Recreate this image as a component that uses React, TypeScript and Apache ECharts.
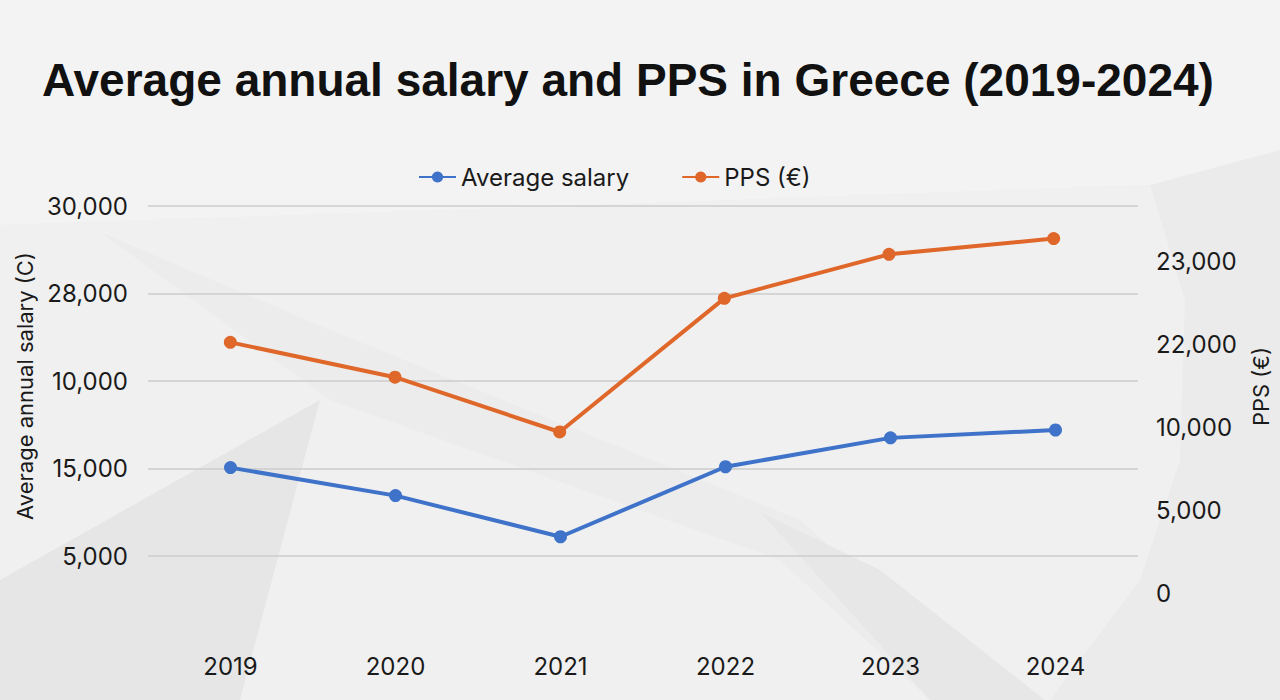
import React, { useEffect, useRef } from "react";
import * as echarts from "echarts";

// Years on the category axis
const years = ["2019", "2020", "2021", "2022", "2023", "2024"];

// Tick labels, bottom to top, as printed on each axis
const salaryTicks = ["5,000", "15,000", "10,000", "28,000", "30,000"];
const ppsTicks = ["0", "5,000", "10,000", "22,000", "23,000"];

// Series positions in tick steps of their own axis
const averageSalary = [1.01, 0.69, 0.22, 1.02, 1.35, 1.44];
const ppsValues = [3.02, 2.6, 1.94, 3.55, 4.08, 4.27];

const TITLE_FONT = "'Liberation Sans', Arial, sans-serif";
const FONT = "Inter, 'Liberation Sans', sans-serif";
const BLUE = "#3f72c9";
const ORANGE = "#e0672a";
const INK = "#1a1a1a";

export default function App() {
  const ref = useRef<HTMLDivElement>(null);

  useEffect(() => {
    document.body.style.margin = "0";
    const chart = echarts.init(ref.current!, null, { renderer: "svg" });

    const tickFormatter = (labels: string[]) => (v: number) =>
      Number.isInteger(v) && labels[v] !== undefined ? labels[v] : "";

    // soft paper-like shading behind the chart
    const shade = (points: number[][], fill: string, z = -10) => ({
      type: "polygon",
      silent: true,
      z,
      shape: { points },
      style: { fill },
    });

    chart.setOption({
      animation: false,
      backgroundColor: "#ebebeb",
      textStyle: { fontFamily: FONT },
      graphic: [
        shade([[0, 0], [1280, 0], [1280, 150], [1150, 185], [600, 205], [0, 225]], "#f3f3f3"),
        shade(
          [[0, 225], [600, 205], [1150, 185], [1185, 300], [1180, 460], [1140, 580], [1050, 700], [0, 700]],
          "#f0f0f0"
        ),
        shade([[100, 232], [330, 400], [780, 560], [930, 700], [1000, 700], [800, 520], [330, 330]], "#ececec", -9),
        shade([[0, 700], [0, 580], [320, 400], [240, 700]], "#e6e6e6", -8),
        shade([[760, 512], [930, 700], [1045, 700], [880, 570]], "#e7e7e7", -8),
        {
          type: "text",
          left: 42,
          top: 57,
          style: {
            text: "Average annual salary and PPS in Greece (2019-2024)",
            fontFamily: TITLE_FONT,
            fontSize: 46,
            fontWeight: "bold",
            fill: "#111111",
          },
        },
      ],
      legend: {
        left: 418,
        top: 165,
        padding: 0,
        itemWidth: 37,
        itemHeight: 14,
        itemGap: 52,
        textStyle: { fontSize: 24, color: INK, fontFamily: FONT },
        data: ["Average salary", "PPS (€)"],
      },
      grid: [
        { left: 148, width: 990, top: 206, height: 350 },
        { left: 148, width: 990, top: 206, height: 387 },
      ],
      xAxis: [
        {
          type: "category",
          gridIndex: 0,
          data: years,
          boundaryGap: true,
          axisLine: { show: false },
          axisTick: { show: false },
          axisLabel: { margin: 98, fontSize: 24, color: INK },
        },
        {
          type: "category",
          gridIndex: 1,
          data: years,
          boundaryGap: true,
          show: false,
        },
      ],
      yAxis: [
        {
          type: "value",
          gridIndex: 0,
          position: "left",
          min: 0,
          max: 4,
          interval: 1,
          name: "Average annual salary (C)",
          nameLocation: "middle",
          nameRotate: 90,
          nameGap: 110,
          nameTextStyle: { fontSize: 22, color: INK, padding: [0, 10, 0, 0] },
          axisLine: { show: false },
          axisTick: { show: false },
          axisLabel: { margin: 20, fontSize: 24, color: INK, formatter: tickFormatter(salaryTicks) },
          splitLine: { lineStyle: { color: "#cdcdcd", width: 1.5 } },
        },
        {
          type: "value",
          gridIndex: 1,
          position: "right",
          min: 0,
          max: 387 / 83,
          interval: 1,
          name: "PPS (€)",
          nameLocation: "middle",
          nameRotate: 90,
          nameGap: 114,
          nameTextStyle: { fontSize: 22, color: INK, padding: [0, 0, 0, 26] },
          axisLine: { show: false },
          axisTick: { show: false },
          axisLabel: { margin: 20, fontSize: 24, color: INK, formatter: tickFormatter(ppsTicks) },
          splitLine: { show: false },
        },
      ],
      series: [
        {
          name: "Average salary",
          type: "line",
          xAxisIndex: 0,
          yAxisIndex: 0,
          data: averageSalary,
          symbol: "circle",
          symbolSize: 13,
          color: BLUE,
          lineStyle: { width: 4, color: BLUE },
          itemStyle: { color: BLUE },
        },
        {
          name: "PPS (€)",
          type: "line",
          xAxisIndex: 1,
          yAxisIndex: 1,
          data: ppsValues,
          symbol: "circle",
          symbolSize: 13,
          color: ORANGE,
          lineStyle: { width: 4, color: ORANGE },
          itemStyle: { color: ORANGE },
        },
      ],
    });

    return () => chart.dispose();
  }, []);

  return <div ref={ref} style={{ width: 1280, height: 700 }} />;
}
